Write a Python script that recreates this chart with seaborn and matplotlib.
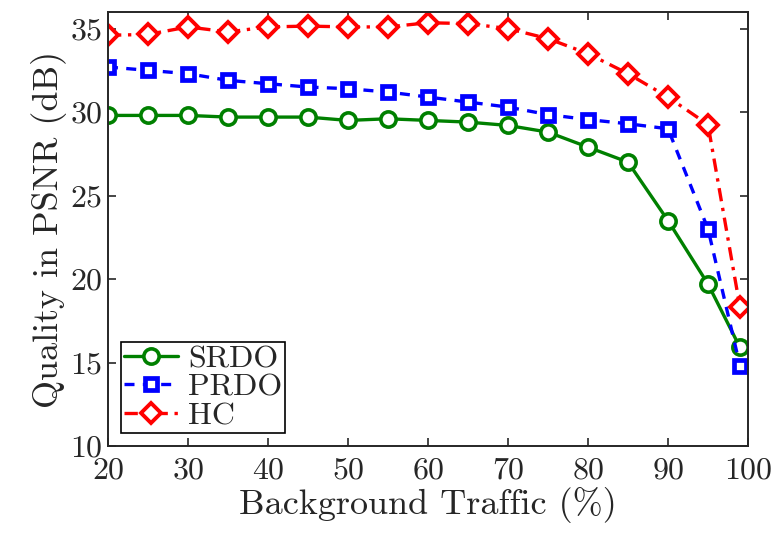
import pandas as pd
import seaborn as sns
import matplotlib.pyplot as plt

traffic = [20, 25, 30, 35, 40, 45, 50, 55, 60, 65, 70, 75, 80, 85, 90, 95, 99]
srdo = [29.8, 29.8, 29.8, 29.7, 29.7, 29.7, 29.5, 29.6, 29.5, 29.4, 29.2, 28.8, 27.9, 27.0, 23.5, 19.7, 15.9]
prdo = [32.7, 32.5, 32.3, 31.9, 31.7, 31.5, 31.4, 31.2, 30.9, 30.6, 30.3, 29.85, 29.55, 29.3, 29.0, 23.0, 14.8]
hc = [34.6, 34.65, 35.1, 34.8, 35.1, 35.15, 35.1, 35.1, 35.35, 35.3, 35.0, 34.4, 33.5, 32.3, 30.9, 29.25, 18.3]

x_ticks = [20, 30, 40, 50, 60, 70, 80, 90, 100]
y_ticks = [10, 15, 20, 25, 30, 35]


def set_style():
    sns.set_theme(style="ticks")
    plt.rcParams["font.family"] = ["cmr10", "DejaVu Serif"]
    plt.rcParams["mathtext.fontset"] = "cm"
    plt.rcParams["axes.formatter.use_mathtext"] = True
    plt.rcParams["axes.linewidth"] = 1.4


def main():
    set_style()
    df = pd.DataFrame({"traffic": traffic, "SRDO": srdo, "PRDO": prdo, "HC": hc})

    fig = plt.figure(figsize=(7.79, 5.41), dpi=100)
    ax = fig.add_axes([0.1386, 0.1756, 0.8216, 0.8024])

    # name, colour, dash, marker, size, edge width
    series = [
        ("SRDO", "#008000", "-", "o", 11, 2.6),
        ("PRDO", "#0000ff", (0, (3, 2.5)), "s", 9, 3.4),
        ("HC", "#ff0000", (0, (4, 2, 1, 2)), "D", 10, 2.8),
    ]
    for name, color, ls, marker, ms, mew in series:
        sns.lineplot(data=df, x="traffic", y=name, ax=ax, color=color,
                     linestyle=ls, marker=marker, markersize=ms,
                     markerfacecolor="white", markeredgecolor=color,
                     markeredgewidth=mew, linewidth=2.4, label=name)

    ax.set_xlim(20, 100)
    ax.set_ylim(10, 36)
    ax.set_xticks(x_ticks)
    ax.set_yticks(y_ticks)
    ax.tick_params(direction="in", top=True, right=True, length=6,
                   width=1.2, labelsize=23)
    ax.tick_params(axis="x", pad=8)
    ax.tick_params(axis="y", pad=4)
    ax.set_xlabel("Background Traffic (%)", fontsize=26, labelpad=2)
    ax.set_ylabel("Quality in PSNR (dB)", fontsize=26, labelpad=2)

    leg = ax.legend(loc="lower left", fontsize=23, frameon=True, fancybox=False,
                    edgecolor="black", framealpha=1, handlelength=1.7,
                    handletextpad=0.3, borderpad=0.1, labelspacing=0.0,
                    borderaxespad=0.4)
    leg.get_frame().set_linewidth(1.2)

    plt.savefig("out.png", dpi=100)
    plt.close()


if __name__ == "__main__":
    main()
